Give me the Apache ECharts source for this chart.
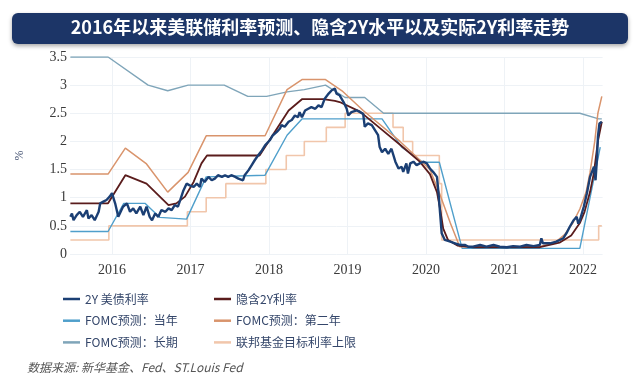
<!DOCTYPE html>
<html><head><meta charset="utf-8">
<script src="https://cdn.jsdelivr.net/npm/echarts@6/dist/echarts.min.js"></script>
<style>html,body{margin:0;padding:0;background:#fff;}#c{width:640px;height:381px;}</style>
</head><body><div id="c"></div>
<script>
// ---- data (x = decimal year, y = %) ----
const yearTicks = [2016, 2017, 2018, 2019, 2020, 2021, 2022];
const titleText = '2016年以来美联储利率预测、隐含2Y水平以及实际2Y利率走势';
const sourceText = '数据来源: 新华基金、Fed、ST.Louis Fed';
const names = ['2Y 美债利率', '隐含2Y利率', 'FOMC预测：当年', 'FOMC预测：第二年', 'FOMC预测：长期', '联邦基金目标利率上限'];

const yield2Y = [
 [2015.47,0.66],[2015.49,0.72],[2015.51,0.60],[2015.55,0.69],[2015.59,0.75],[2015.63,0.66],[2015.68,0.78],[2015.70,0.63],
 [2015.74,0.69],[2015.78,0.60],[2015.83,0.75],[2015.85,0.90],[2015.89,0.93],[2015.93,0.96],[2015.97,1.02],[2016.00,1.08],
 [2016.02,0.99],[2016.04,0.90],[2016.08,0.66],[2016.10,0.72],[2016.14,0.84],[2016.19,0.90],[2016.23,0.75],[2016.27,0.81],
 [2016.31,0.72],[2016.36,0.84],[2016.40,0.69],[2016.44,0.84],[2016.48,0.66],[2016.51,0.60],[2016.55,0.72],[2016.59,0.66],
 [2016.63,0.78],[2016.68,0.75],[2016.72,0.81],[2016.76,0.78],[2016.80,0.87],[2016.84,0.84],[2016.87,0.96],[2016.91,1.13],
 [2016.93,1.10],[2016.95,1.25],[2016.99,1.22],[2017.04,1.19],[2017.08,1.25],[2017.12,1.19],[2017.14,1.34],[2017.18,1.28],
 [2017.23,1.37],[2017.27,1.31],[2017.31,1.34],[2017.35,1.40],[2017.40,1.37],[2017.44,1.40],[2017.48,1.37],[2017.52,1.40],
 [2017.57,1.37],[2017.61,1.34],[2017.67,1.31],[2017.69,1.40],[2017.74,1.49],[2017.78,1.58],[2017.82,1.67],[2017.86,1.75],
 [2017.91,1.84],[2017.95,1.93],[2018.01,2.02],[2018.05,2.11],[2018.10,2.17],[2018.14,2.23],[2018.16,2.29],[2018.20,2.26],
 [2018.25,2.35],[2018.29,2.38],[2018.33,2.46],[2018.37,2.43],[2018.39,2.52],[2018.42,2.43],[2018.46,2.55],[2018.50,2.58],
 [2018.54,2.61],[2018.59,2.58],[2018.63,2.64],[2018.67,2.61],[2018.71,2.76],[2018.76,2.85],[2018.80,2.91],[2018.84,2.94],
 [2018.86,2.85],[2018.90,2.82],[2018.95,2.70],[2018.99,2.58],[2019.01,2.46],[2019.05,2.52],[2019.07,2.52],[2019.12,2.55],
 [2019.16,2.52],[2019.20,2.49],[2019.22,2.26],[2019.26,2.32],[2019.31,2.29],[2019.35,2.20],[2019.39,2.11],[2019.41,1.90],
 [2019.44,1.81],[2019.48,1.87],[2019.52,1.78],[2019.56,1.87],[2019.61,1.64],[2019.65,1.52],[2019.69,1.55],[2019.71,1.46],
 [2019.75,1.61],[2019.77,1.43],[2019.80,1.61],[2019.84,1.64],[2019.88,1.58],[2019.92,1.61],[2019.97,1.64],[2020.01,1.61],
 [2020.05,1.52],[2020.09,1.46],[2020.14,1.37],[2020.16,1.08],[2020.18,0.72],[2020.20,0.37],[2020.24,0.25],[2020.31,0.22],
 [2020.37,0.19],[2020.43,0.16],[2020.50,0.16],[2020.54,0.13],[2020.60,0.13],[2020.69,0.16],[2020.77,0.13],[2020.86,0.16],
 [2020.94,0.13],[2021.03,0.12],[2021.11,0.14],[2021.20,0.13],[2021.28,0.16],[2021.37,0.14],[2021.45,0.16],[2021.47,0.28],
 [2021.49,0.19],[2021.58,0.19],[2021.66,0.22],[2021.75,0.28],[2021.79,0.37],[2021.83,0.48],[2021.88,0.60],[2021.92,0.66],
 [2021.94,0.54],[2021.96,0.60],[2022.01,0.84],[2022.05,1.08],[2022.09,1.37],[2022.14,1.55],[2022.16,1.31],[2022.18,1.73],
 [2022.19,2.08],[2022.21,2.32],[2022.24,2.35]
];
const implied2Y = [
 [2015.47,0.90],[2015.95,0.90],[2016.17,1.40],[2016.44,1.25],[2016.72,0.87],[2016.82,0.90],[2016.93,1.02],[2017.04,1.28],
 [2017.14,1.61],[2017.21,1.75],[2017.88,1.75],[2018.25,2.55],[2018.42,2.75],[2018.69,2.75],[2018.84,2.72],[2018.90,2.70],
 [2019.16,2.53],[2019.41,2.24],[2019.67,1.94],[2019.92,1.64],[2020.05,1.42],[2020.14,1.10],[2020.18,0.80],[2020.22,0.45],
 [2020.28,0.25],[2020.40,0.15],[2020.60,0.12],[2021.45,0.12],[2021.70,0.20],[2021.85,0.33],[2021.96,0.55],[2022.02,0.75],
 [2022.09,1.10],[2022.14,1.45],[2022.19,2.00],[2022.24,2.35]
];
const fomcCurrent = [
 [2015.47,0.40],[2015.95,0.40],[2016.15,0.90],[2016.42,0.90],[2016.61,0.65],[2016.95,0.62],[2017.20,1.37],[2017.95,1.40],
 [2018.23,2.11],[2018.42,2.40],[2019.44,2.40],[2019.69,1.90],[2019.96,1.63],[2020.17,1.63],[2020.46,0.10],[2021.96,0.10],
 [2022.22,1.90]
];
const fomcNext = [
 [2015.47,1.42],[2015.95,1.42],[2016.17,1.88],[2016.44,1.60],[2016.71,1.10],[2016.97,1.45],[2017.20,2.10],[2017.95,2.10],
 [2018.23,2.92],[2018.42,3.10],[2018.72,3.10],[2018.93,2.90],[2019.20,2.55],[2019.67,2.00],[2020.05,1.50],[2020.18,1.05],
 [2020.31,0.55],[2020.43,0.13],[2021.45,0.13],[2021.64,0.20],[2021.77,0.35],[2021.87,0.55],[2021.96,0.80],[2022.04,1.10],
 [2022.09,1.45],[2022.15,2.00],[2022.19,2.50],[2022.24,2.80]
];
const fomcLong = [
 [2015.47,3.50],[2015.95,3.50],[2016.46,3.00],[2016.71,2.90],[2016.97,3.00],[2017.43,3.00],[2017.73,2.80],[2017.97,2.80],
 [2018.23,2.88],[2018.45,2.92],[2018.72,3.00],[2018.97,2.78],[2019.22,2.78],[2019.46,2.50],[2021.96,2.50],[2022.20,2.40],
 [2022.24,2.40]
];
const fedUpper = [
 [2015.47,0.25],[2015.96,0.50],[2016.96,0.75],[2017.20,1.00],[2017.45,1.25],[2017.96,1.50],[2018.22,1.75],[2018.45,2.00],
 [2018.73,2.25],[2018.97,2.50],[2019.58,2.25],[2019.71,2.00],[2019.83,1.75],[2020.17,1.25],[2020.20,0.25],[2022.20,0.50],
 [2022.24,0.50]
];

const colors = ['#1b3f74', '#5a1c1c', '#4f9fcb', '#d9946c', '#7fa5b9', '#f1c6ab'];

const chart = echarts.init(document.getElementById('c'), null, {renderer: 'canvas'});
const legendText = {fontFamily: "'Noto Sans CJK SC'", fontSize: 12, color: '#34466a', lineHeight: 14};
chart.setOption({
  animation: false,
  backgroundColor: '#ffffff',
  grid: {left: 70, top: 57, width: 532.6, height: 197},
  xAxis: {
    type: 'value', min: 2015.465, max: 2022.25,
    axisLine: {show: false}, axisTick: {show: false, customValues: yearTicks},
    splitLine: {show: true, lineStyle: {color: '#eef2f6', width: 1}},
    axisLabel: {customValues: yearTicks, formatter: v => String(Math.round(v)), margin: 9,
      fontFamily: "'Liberation Serif'", fontSize: 14, color: '#3a3a3a'}
  },
  yAxis: {
    type: 'value', min: 0, max: 3.5, interval: 0.5,
    name: '%', nameLocation: 'middle', nameGap: 44, nameRotate: 90,
    nameTextStyle: {fontFamily: "'Liberation Serif'", fontSize: 12, color: '#3b4a6b'},
    axisLine: {show: false}, axisTick: {show: false},
    splitLine: {lineStyle: {color: '#eef2f6', width: 1}},
    axisLabel: {margin: 3, fontFamily: "'Liberation Serif'", fontSize: 14, color: '#3a3a3a'}
  },
  legend: [
    {left: 58, top: 287, orient: 'vertical', itemGap: 7.7, itemWidth: 17, itemHeight: 2.5, icon: 'rect',
     data: [names[0], names[2], names[4]], textStyle: legendText},
    {left: 209, top: 287, orient: 'vertical', itemGap: 7.7, itemWidth: 17, itemHeight: 2.5, icon: 'rect',
     data: [names[1], names[3], names[5]], textStyle: legendText}
  ],
  graphic: [
    {type: 'rect', left: 12, top: 13, shape: {width: 616, height: 31, r: 6},
     style: {fill: '#1c3567', shadowBlur: 4, shadowColor: 'rgba(0,0,0,0.35)', shadowOffsetY: 2}},
    {type: 'text', left: 'center', top: 18, style: {text: titleText, fill: '#ffffff',
     font: "bold 18px 'Noto Sans CJK SC'"}},
    {type: 'text', left: 27, top: 361, style: {text: sourceText, fill: '#555555',
     font: "italic 12px 'Noto Sans CJK SC'"}}
  ],
  series: [
    {name: names[5], type: 'line', data: fedUpper, step: 'end', symbol: 'none', color: colors[5], lineStyle: {width: 1.6}, z: 1},
    {name: names[4], type: 'line', data: fomcLong, symbol: 'none', color: colors[4], lineStyle: {width: 1.4}, z: 2},
    {name: names[2], type: 'line', data: fomcCurrent, symbol: 'none', color: colors[2], lineStyle: {width: 1.4}, z: 3},
    {name: names[3], type: 'line', data: fomcNext, symbol: 'none', color: colors[3], lineStyle: {width: 1.5}, z: 4},
    {name: names[1], type: 'line', data: implied2Y, symbol: 'none', color: colors[1], lineStyle: {width: 1.8}, z: 5},
    {name: names[0], type: 'line', data: yield2Y, symbol: 'none', color: colors[0], lineStyle: {width: 2.4}, z: 6}
  ]
});
</script></body></html>
